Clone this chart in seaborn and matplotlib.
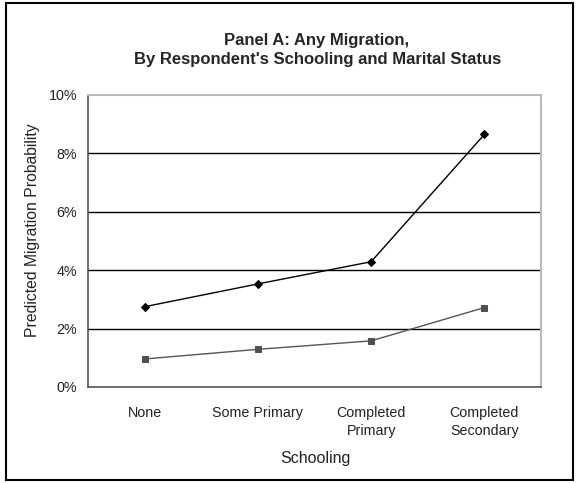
import matplotlib
matplotlib.use("Agg")
import matplotlib.pyplot as plt
import matplotlib.patches as mpatches
from matplotlib.ticker import FuncFormatter, FixedLocator
import seaborn as sns
import pandas as pd

categories = ["None", "Some Primary", "Completed\nPrimary", "Completed\nSecondary"]
series_a = [2.75, 3.53, 4.29, 8.65]   # diamonds, black
series_b = [0.96, 1.29, 1.58, 2.72]   # squares, gray
y_ticks = [0, 2, 4, 6, 8, 10]

sns.set_style("white")
plt.rcParams['font.family'] = ['Liberation Sans', 'DejaVu Sans']

fig = plt.figure(figsize=(5.8, 4.83), dpi=100)
ax = fig.add_axes([88/580, 1-387/483, (541-88)/580, (387-95)/483])

x = list(range(len(categories)))
df = pd.DataFrame({
    "x": x + x,
    "y": series_a + series_b,
    "s": ["A"] * len(x) + ["B"] * len(x),
})

sns.lineplot(data=df[df.s == "A"], x="x", y="y", ax=ax, color="black",
             marker="D", markersize=4, markeredgecolor="black", linewidth=1.0,
             legend=False)
sns.lineplot(data=df[df.s == "B"], x="x", y="y", ax=ax, color="#555555",
             marker="s", markersize=5, markerfacecolor="#505050",
             markeredgecolor="#505050", linewidth=1.0, legend=False)

ax.set_xlim(-0.5, len(categories) - 0.5)
ax.set_ylim(0, 10)
ax.set_yticks(y_ticks)
ax.yaxis.set_major_formatter(FuncFormatter(lambda v, p: f"{int(v)}%"))
for yv in y_ticks[1:-1]:
    ax.axhline(yv, color="black", linewidth=1.0, zorder=0)

ax.set_xticks(x)
ax.set_xticklabels(categories, linespacing=1.4)
ax.xaxis.set_minor_locator(FixedLocator([i - 0.5 for i in range(len(categories) + 1)]))
ax.tick_params(axis="x", which="major", length=0, pad=13.5, labelsize=10.3)
ax.tick_params(axis="x", which="minor", length=5, width=1, color="#555555", direction="out")
ax.tick_params(axis="y", which="major", length=5, width=1, color="#555555", direction="out",
               labelsize=10.3, pad=3)
ax.tick_params(axis="x", labelcolor="#222222")
ax.tick_params(axis="y", labelcolor="#222222")

for side in ["left", "bottom"]:
    ax.spines[side].set_color("#555555")
    ax.spines[side].set_linewidth(1.2)
for side in ["top", "right"]:
    ax.spines[side].set_visible(True)
    ax.spines[side].set_color("#bbbbbb")
    ax.spines[side].set_linewidth(1.5)

ax.set_xlabel("Schooling", fontsize=11.5, color="#222222")
ax.xaxis.set_label_coords((315-88)/453, -(458-387)/292)
ax.xaxis.label.set_verticalalignment("center")
ax.set_ylabel("Predicted Migration Probability", fontsize=11.3, color="#222222")
ax.yaxis.set_label_coords((33-88)/453, (387-230)/292)
ax.yaxis.label.set_verticalalignment("center")

fig.text(317/580, 1-41/483, "Panel A: Any Migration,", ha="center", va="center",
         fontsize=12, fontweight="bold")
fig.text(318/580, 1-59.5/483, "By Respondent's Schooling and Marital Status", ha="center",
         va="center", fontsize=12, fontweight="bold")

fig.patches.append(mpatches.Rectangle((6/580, 1-480/483), (573-6)/580, (480-3)/483,
                                      transform=fig.transFigure, fill=False,
                                      edgecolor="black", linewidth=1.5))

fig.savefig("out.png", dpi=100)
